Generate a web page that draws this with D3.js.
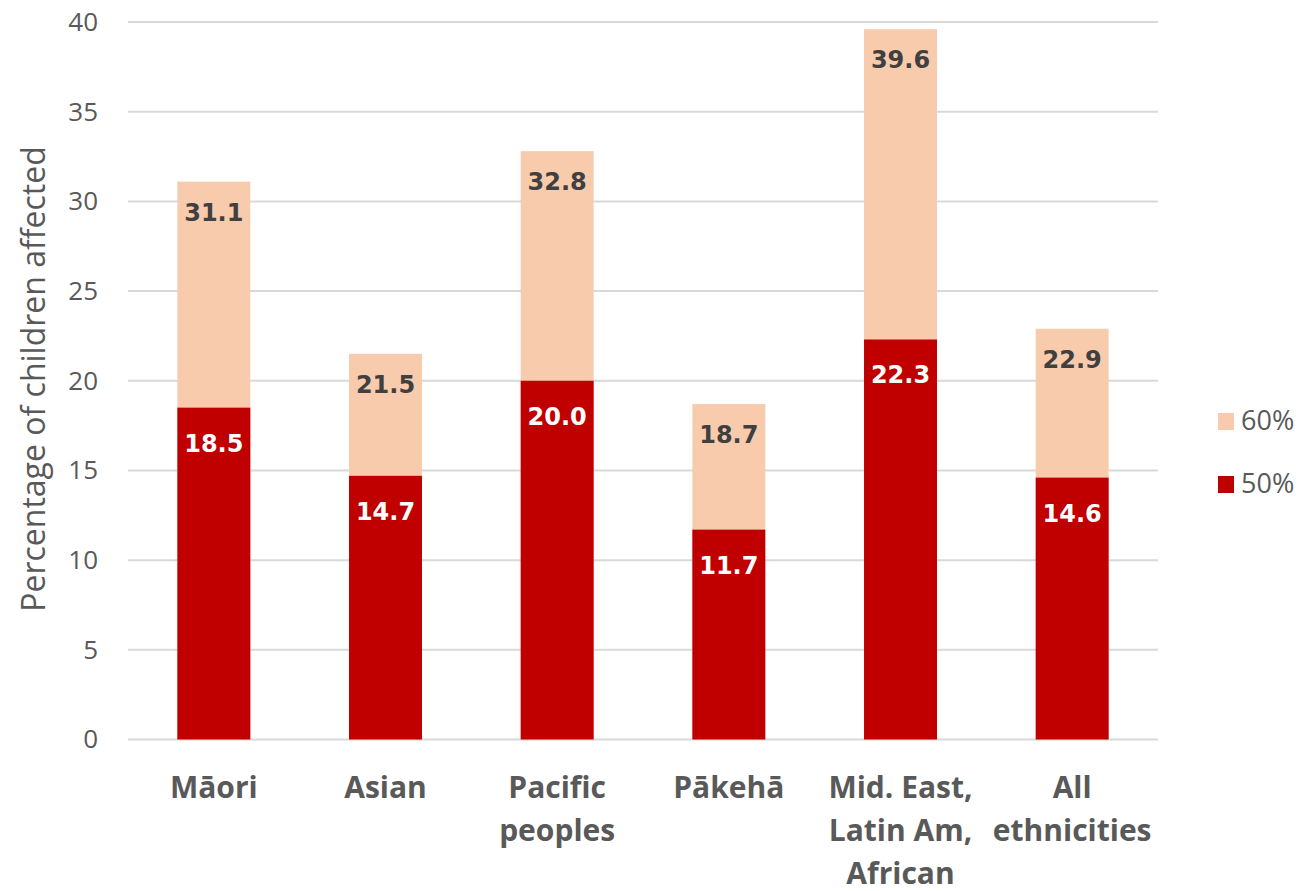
<!DOCTYPE html>
<html>
<head>
<meta charset="utf-8">
<script src="https://cdn.jsdelivr.net/npm/d3@7/dist/d3.min.js"></script>
<style>
  html, body { margin: 0; padding: 0; background: #ffffff; }
  svg { display: block; }
</style>
</head>
<body>
<svg id="chart" width="1305" height="891"></svg>
<script>
// Child poverty by ethnicity: share of children below 60% and 50% of median income
const categories = [
  ["Māori"],
  ["Asian"],
  ["Pacific", "peoples"],
  ["Pākehā"],
  ["Mid. East,", "Latin Am,", "African"],
  ["All", "ethnicities"]
];
const threshold60 = [31.1, 21.5, 32.8, 18.7, 39.6, 22.9];
const threshold50 = [18.5, 14.7, 20.0, 11.7, 22.3, 14.6];
const yTicks = [0, 5, 10, 15, 20, 25, 30, 35, 40];
const seriesNames = ["60%", "50%"];

const COLOR_60 = "#F8CBAD";
const COLOR_50 = "#C00000";
const GRID = "#D9D9D9";
const TEXT = "#595959";

const svg = d3.select("#chart");
const margin = { left: 128, right: 147, top: 22, bottom: 151.5 };
const W = 1305, H = 891;

const keys = categories.map(c => c.join(" "));

const x = d3.scaleBand()
  .domain(keys)
  .range([margin.left, W - margin.right])
  .paddingInner(0.575)
  .paddingOuter(0.2875);

const y = d3.scaleLinear()
  .domain([0, 40])
  .range([H - margin.bottom, margin.top]);

// Horizontal gridlines
svg.append("g")
  .selectAll("line")
  .data(yTicks)
  .join("line")
  .attr("x1", margin.left)
  .attr("x2", W - margin.right)
  .attr("y1", d => y(d))
  .attr("y2", d => y(d))
  .attr("stroke", GRID)
  .attr("stroke-width", 2);

// Y axis tick labels
const yAxis = d3.axisLeft(y).tickValues(yTicks).tickSize(0).tickPadding(30);
const gy = svg.append("g")
  .attr("transform", `translate(${margin.left},0)`)
  .call(yAxis);
gy.select(".domain").remove();
gy.selectAll("text")
  .attr("fill", TEXT)
  .style("font-family", "'Open Sans', sans-serif")
  .style("font-size", "26px");

// Y axis title
svg.append("text")
  .attr("transform", "translate(45,379) rotate(-90)")
  .attr("text-anchor", "middle")
  .attr("fill", TEXT)
  .style("font-family", "'Open Sans', sans-serif")
  .style("font-size", "32px")
  .text("Percentage of children affected");

// Bars: the 60% series behind, the 50% series overlaid in front
const rows = keys.map((k, i) => ({ key: k, v60: threshold60[i], v50: threshold50[i] }));

svg.append("g")
  .selectAll("rect")
  .data(rows)
  .join("rect")
  .attr("x", d => x(d.key))
  .attr("width", x.bandwidth())
  .attr("y", d => y(d.v60))
  .attr("height", d => y(0) - y(d.v60))
  .attr("fill", COLOR_60);

svg.append("g")
  .selectAll("rect")
  .data(rows)
  .join("rect")
  .attr("x", d => x(d.key))
  .attr("width", x.bandwidth())
  .attr("y", d => y(d.v50))
  .attr("height", d => y(0) - y(d.v50))
  .attr("fill", COLOR_50);

// Value labels inside bar ends
const labelFont = "'DejaVu Sans', sans-serif";
svg.append("g")
  .selectAll("text")
  .data(rows)
  .join("text")
  .attr("x", d => x(d.key) + x.bandwidth() / 2)
  .attr("y", d => y(d.v60) + 39)
  .attr("text-anchor", "middle")
  .attr("fill", "#404040")
  .style("font-family", labelFont)
  .style("font-weight", "bold")
  .style("font-size", "24px")
  .text(d => d.v60.toFixed(1));

svg.append("g")
  .selectAll("text")
  .data(rows)
  .join("text")
  .attr("x", d => x(d.key) + x.bandwidth() / 2)
  .attr("y", d => y(d.v50) + 44)
  .attr("text-anchor", "middle")
  .attr("fill", "#ffffff")
  .style("font-family", labelFont)
  .style("font-weight", "bold")
  .style("font-size", "24px")
  .text(d => d.v50.toFixed(1));

// Category labels (multi-line)
const xl = svg.append("g")
  .selectAll("text")
  .data(categories)
  .join("text")
  .attr("text-anchor", "middle")
  .attr("fill", TEXT)
  .style("font-family", "'Open Sans', sans-serif")
  .style("font-weight", "bold")
  .style("font-size", "30px");
xl.each(function(lines, i) {
  const t = d3.select(this);
  const cx = x(keys[i]) + x.bandwidth() / 2;
  lines.forEach((ln, j) => {
    t.append("tspan")
      .attr("x", cx)
      .attr("y", y(0) + 58 + j * 43)
      .text(ln);
  });
});

// Legend
const legend = svg.append("g");
seriesNames.forEach((name, i) => {
  const ly = 430 + i * 63;
  legend.append("rect")
    .attr("x", 1218)
    .attr("y", ly - 17)
    .attr("width", 16)
    .attr("height", 17)
    .attr("fill", i === 0 ? COLOR_60 : COLOR_50);
  legend.append("text")
    .attr("x", 1241)
    .attr("y", ly)
    .attr("fill", TEXT)
    .style("font-family", "'Open Sans', sans-serif")
    .style("font-size", "27px")
    .text(name);
});
</script>
</body>
</html>
